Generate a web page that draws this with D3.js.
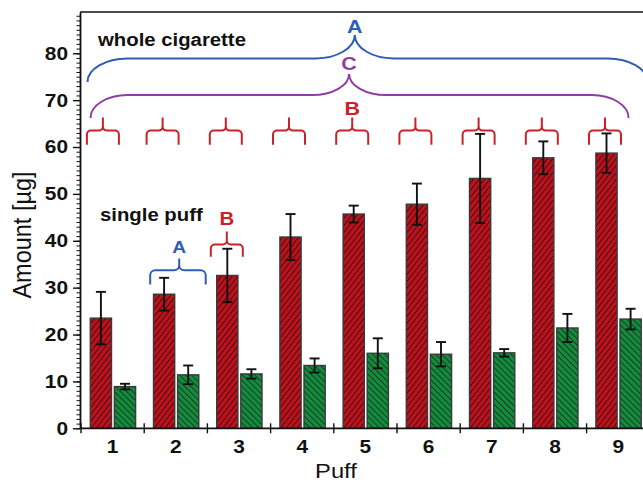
<!DOCTYPE html>
<html>
<head>
<meta charset="utf-8">
<script src="https://cdn.jsdelivr.net/npm/d3@7/dist/d3.min.js"></script>
<style>
  html, body { margin: 0; padding: 0; background: #fff; }
  svg { display: block; font-family: "Liberation Sans", Arial, Helvetica, sans-serif; }
</style>
</head>
<body>
<svg id="chart" width="643" height="485"></svg>
<script>
// Puff-by-puff amounts, mean and standard deviation (µg)
const puffs = ["1", "2", "3", "4", "5", "6", "7", "8", "9"];
const wholeCigarette    = [23.5, 28.6, 32.6, 40.8, 45.7, 47.8, 53.3, 57.7, 58.7];
const wholeCigaretteErr = [5.6, 3.5, 5.7, 4.9, 1.8, 4.4, 9.5, 3.5, 4.2];
const singlePuff        = [8.9, 11.4, 11.6, 13.4, 16.0, 15.8, 16.1, 21.4, 23.3];
const singlePuffErr     = [0.6, 2.0, 1.0, 1.5, 3.2, 2.6, 0.8, 3.0, 2.2];
const yTicks = [0, 10, 20, 30, 40, 50, 60, 70, 80];
const seriesNames = ["whole cigarette", "single puff"];

const svg = d3.select("#chart");
const SX = 1.13; // horizontal text stretch

const y = d3.scaleLinear().domain([0, 88.8]).range([428.3, 12]);
const x = d3.scaleBand().domain(puffs).range([81, 81 + 9 * 63.2]).padding(0);
const xs = d3.scaleBand().domain(["whole", "single"]).range([9.3, 54.6]).paddingInner(0.12);

const rows = puffs.map((p, i) => ({
  puff: p,
  bars: [
    { key: "whole", v: wholeCigarette[i], e: wholeCigaretteErr[i] },
    { key: "single", v: singlePuff[i], e: singlePuffErr[i] }
  ]
}));

// hatch patterns
const defs = svg.append("defs");
function hatch(id, fill, line, angle) {
  const p = defs.append("pattern")
    .attr("id", id).attr("patternUnits", "userSpaceOnUse")
    .attr("width", 4.3).attr("height", 4.3)
    .attr("patternTransform", `rotate(${angle})`);
  p.append("rect").attr("width", 4.3).attr("height", 4.3).attr("fill", fill);
  p.append("line").attr("x1", 0.5).attr("y1", 0).attr("x2", 0.5).attr("y2", 4.3)
    .attr("stroke", line).attr("stroke-width", 0.9);
}
hatch("hatchRed", "#bb121d", "#3e0a0d", 38);
hatch("hatchGreen", "#168a3e", "#0a3a1b", -45);
const fills = { whole: "url(#hatchRed)", single: "url(#hatchGreen)" };

// frame top line
svg.append("line")
  .attr("x1", 80).attr("x2", 643).attr("y1", y(88.8)).attr("y2", y(88.8))
  .attr("stroke", "#111").attr("stroke-width", 1.6);

// bars
const groups = svg.append("g").selectAll("g").data(rows).join("g")
  .attr("transform", d => `translate(${x(d.puff)},0)`);

groups.selectAll("rect").data(d => d.bars).join("rect")
  .attr("x", d => xs(d.key))
  .attr("width", xs.bandwidth())
  .attr("y", d => y(d.v))
  .attr("height", d => y(0) - y(d.v))
  .attr("fill", d => fills[d.key])
  .attr("stroke", "#3a3a3a")
  .attr("stroke-width", 1.4);

// error bars
const eb = groups.selectAll("g.err").data(d => d.bars).join("g").attr("class", "err")
  .attr("transform", d => `translate(${xs(d.key) + xs.bandwidth() / 2},0)`)
  .attr("stroke", "#111").attr("stroke-width", 1.9);
eb.append("line").attr("y1", d => y(d.v + d.e)).attr("y2", d => y(d.v - d.e));
eb.append("line").attr("x1", -5).attr("x2", 5).attr("y1", d => y(d.v + d.e)).attr("y2", d => y(d.v + d.e));
eb.append("line").attr("x1", -5).attr("x2", 5).attr("y1", d => y(d.v - d.e)).attr("y2", d => y(d.v - d.e));

// y axis: minor ticks every 1, major every 10
const minor = d3.range(0, 89, 1);
svg.append("g").attr("transform", "translate(80,0)")
  .call(d3.axisLeft(y).tickValues(minor).tickSize(3.5).tickFormat(""))
  .call(g => g.select(".domain").remove())
  .call(g => g.selectAll("line").attr("stroke", "#111").attr("stroke-width", 1));
const yAxis = svg.append("g").attr("transform", "translate(80,0)")
  .call(d3.axisLeft(y).tickValues(yTicks).tickSize(7).tickPadding(3.6).tickSizeOuter(0));
yAxis.select(".domain").attr("stroke", "#111").attr("stroke-width", 1.8);
yAxis.selectAll("line").attr("stroke", "#111").attr("stroke-width", 1.4);
yAxis.selectAll("text")
  .attr("font-size", 18.5).attr("font-weight", "bold").attr("fill", "#111")
  .attr("font-family", "Liberation Sans, Arial, sans-serif")
  .attr("transform", `scale(${SX},1)`);

// x axis: line, boundary ticks, centered labels
const xAxis = svg.append("g").attr("transform", `translate(0,${y(0)})`)
  .call(d3.axisBottom(x).tickSize(0).tickPadding(12));
xAxis.select(".domain").attr("d", `M80,0H643`).attr("stroke", "#111").attr("stroke-width", 1.8);
xAxis.selectAll("text")
  .attr("font-size", 18.5).attr("font-weight", "bold").attr("fill", "#111")
  .attr("font-family", "Liberation Sans, Arial, sans-serif")
  .attr("dy", "0.71em")
  .attr("transform", `scale(${SX},1)`)
  .attr("x", 0);
const bounds = puffs.map(p => x(p)).concat([x(puffs[8]) + x.bandwidth()]);
svg.append("g").selectAll("line").data(bounds).join("line")
  .attr("x1", d => d).attr("x2", d => d)
  .attr("y1", y(0) - 5).attr("y2", y(0) + 5)
  .attr("stroke", "#111").attr("stroke-width", 1.4);

// axis titles
svg.append("text")
  .attr("transform", `translate(31,235) scale(${SX},1) rotate(-90)`)
  .attr("text-anchor", "middle").attr("font-size", 23.5).attr("fill", "#111")
  .text("Amount [µg]");
svg.append("text")
  .attr("transform", `translate(336,478) scale(${SX},1)`)
  .attr("text-anchor", "middle").attr("font-size", 21).attr("fill", "#111")
  .text("Puff");

// series labels
svg.append("text")
  .attr("transform", `translate(98,46) scale(${SX},1)`)
  .attr("font-size", 18).attr("font-weight", "bold").attr("fill", "#111")
  .text(seriesNames[0]);
svg.append("text")
  .attr("transform", `translate(100,221) scale(${SX},1)`)
  .attr("font-size", 18).attr("font-weight", "bold").attr("fill", "#111")
  .text(seriesNames[1]);

// curly braces marking groups of puffs
const K = 0.55;
function bracePath(x0, x1, xm, yb, yh, yp, rex, rey, rmx, rmy) {
  return [
    `M${x0},${yb}`,
    `L${x0},${yh + rey}`,
    `C${x0},${yh + rey - K * rey} ${x0 + rex - K * rex},${yh} ${x0 + rex},${yh}`,
    `L${xm - rmx},${yh}`,
    `C${xm - rmx + K * rmx},${yh} ${xm},${yh - rmy + K * rmy} ${xm},${yh - rmy}`,
    `L${xm},${yp}`,
    `M${xm},${yh - rmy}`,
    `C${xm},${yh - rmy + K * rmy} ${xm + rmx - K * rmx},${yh} ${xm + rmx},${yh}`,
    `L${x1 - rex},${yh}`,
    `C${x1 - rex + K * rex},${yh} ${x1},${yh + rey - K * rey} ${x1},${yh + rey}`,
    `L${x1},${yb}`
  ].join(" ");
}
function brace(o) {
  svg.append("path")
    .attr("d", bracePath(o.x0, o.x1, o.xm, y(o.vb), y(o.vh), y(o.vp), o.rex, o.rey, o.rmx, o.rmy))
    .attr("fill", "none").attr("stroke", o.color).attr("stroke-width", o.sw || 2);
  if (o.label) {
    svg.append("text")
      .attr("transform", `translate(${o.xm},${y(o.vp) - o.lift}) scale(${SX},1)`)
      .attr("text-anchor", "middle").attr("font-size", o.fs).attr("font-weight", "bold")
      .attr("fill", o.color).text(o.label);
  }
}
const blue = "#2f5cb6", purple = "#8c40a0", red = "#cc2127";

// whole-range braces
brace({ x0: x("1") + 6.5, x1: x("9") + 61, xm: x("5") + 21, vb: 73.9, vh: 78.9, vp: 83.9,
        rex: 40, rey: 23.5, rmx: 39, rmy: 23.5, color: blue, label: "A", fs: 19, lift: 1.5 });
brace({ x0: x("1") + 9.5, x1: x("9") + 42, xm: x("5") + 15.3, vb: 66.2, vh: 71.1, vp: 75.6,
        rex: 37, rey: 23, rmx: 37, rmy: 21, color: purple, label: "C", fs: 19, lift: 4 });

// per-puff braces over the whole-cigarette bars
puffs.forEach((p, i) => {
  const c = x(p) + xs("whole") + xs.bandwidth() / 2 + (i === 0 ? 2 : -1.5);
  brace({ x0: c - 16, x1: c + 16, xm: c, vb: 60.5, vh: 63.5, vp: 66.3,
          rex: 4, rey: 4, rmx: 4, rmy: 4, color: red,
          label: p === "5" ? "B" : null, fs: 19, lift: 2 });
});

// single-puff group braces
brace({ x0: x("2") + 6, x1: x("2") + 61.5, xm: x("2") + 35, vb: 30.7, vh: 33.7, vp: 36.2,
        rex: 5, rey: 5, rmx: 5, rmy: 5, color: blue, label: "A", fs: 17, lift: 5.5 });
{
  const c = x("3") + xs("whole") + xs.bandwidth() / 2 - 0.5;
  brace({ x0: c - 16, x1: c + 16, xm: c, vb: 36.6, vh: 39.2, vp: 42.0,
          rex: 4, rey: 4, rmx: 4, rmy: 4, color: red, label: "B", fs: 18, lift: 6.5 });
}
</script>
</body>
</html>
